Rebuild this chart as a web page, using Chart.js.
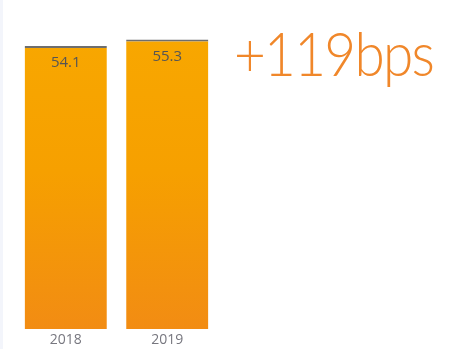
<!DOCTYPE html>
<html lang="en">
<head>
  <meta charset="UTF-8">
  <title>Bar chart 2018 vs 2019</title>
  <script src="https://cdn.jsdelivr.net/npm/chart.js"></script>
  <style>
    body {
      margin: 0;
      background: #ffffff;
      font-family: "Open Sans", Arial, sans-serif;
    }
    .wrap {
      position: relative;
      width: 455px;
      height: 349px;
    }
    .edge {
      position: absolute;
      left: 0;
      top: 0;
      width: 3px;
      height: 349px;
      background: #f3f5fb;
    }
    .delta {
      position: absolute;
      left: 234px;
      top: 21px;
      font-family: Lato, sans-serif;
      font-weight: 300;
      font-size: 62px;
      letter-spacing: -2px;
      color: #f0872a;
      line-height: 1;
      white-space: nowrap;
    }
  </style>
</head>
<body>
  <div class="wrap">
    <div class="edge"></div>
    <canvas id="barChart" width="455" height="349"></canvas>
    <div class="delta" id="delta">+119bps</div>
  </div>

  <script>
    const years = ['2018', '2019'];
    const values = [54.1, 55.3];

    // value label just under the top edge of each bar
    const valueLabels = {
      id: 'valueLabels',
      afterDatasetsDraw(chart) {
        const c = chart.ctx;
        const meta = chart.getDatasetMeta(0);
        c.save();
        c.font = '15px "Open Sans", sans-serif';
        c.fillStyle = '#555555';
        c.textAlign = 'center';
        c.textBaseline = 'middle';
        meta.data.forEach((bar, i) => {
          c.fillText(values[i].toFixed(1), bar.x, bar.y + 17);
        });
        c.restore();
      }
    };

    const ctx = document.getElementById('barChart').getContext('2d');

    new Chart(ctx, {
      type: 'bar',
      data: {
        labels: years,
        datasets: [{
          data: values,
          backgroundColor: (context) => {
            const area = context.chart.chartArea;
            if (!area) return '#f5a000';
            const g = context.chart.ctx.createLinearGradient(0, area.top, 0, area.bottom);
            g.addColorStop(0, '#f8a800');
            g.addColorStop(0.5, '#f6a000');
            g.addColorStop(1, '#f28c13');
            return g;
          },
          borderColor: '#6e6e6e',
          borderWidth: { top: 2, left: 0, right: 0, bottom: 0 },
          borderSkipped: 'bottom',
          categoryPercentage: 1,
          barPercentage: 0.81
        }]
      },
      options: {
        responsive: false,
        animation: false,
        layout: {
          padding: { left: 15, right: 237, top: 15, bottom: 0 }
        },
        plugins: {
          legend: { display: false },
          tooltip: { enabled: false }
        },
        scales: {
          y: {
            display: false,
            min: 0,
            max: 60
          },
          x: {
            grid: { display: false, drawTicks: false },
            border: { display: false },
            afterFit(scale) { scale.height = 20; },
            ticks: {
              color: '#77777f',
              font: { size: 14, family: '"Open Sans", sans-serif' },
              padding: 3
            }
          }
        }
      },
      plugins: [valueLabels]
    });

    // squeeze the headline to the width it takes in the original
    const delta = document.getElementById('delta');
    const w = delta.getBoundingClientRect().width;
    delta.style.transformOrigin = 'left top';
    delta.style.transform = 'scaleX(' + (199 / w) + ')';
  </script>
</body>
</html>
